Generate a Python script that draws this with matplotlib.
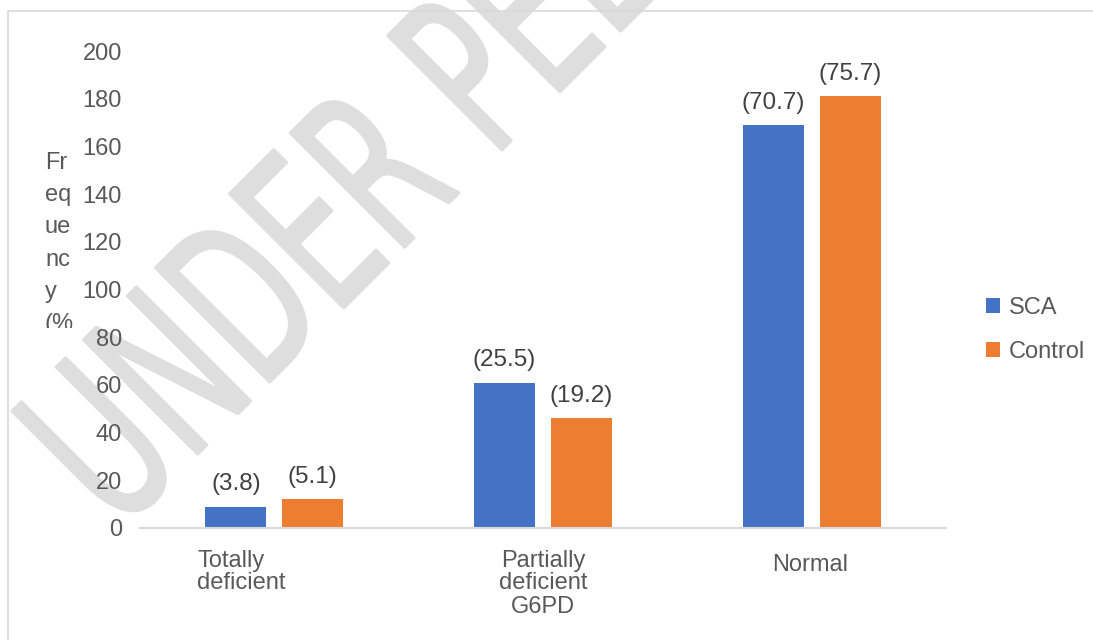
import matplotlib
matplotlib.use("Agg")
import matplotlib.pyplot as plt
import matplotlib.transforms as mtransforms
from matplotlib.patches import Rectangle, PathPatch
from matplotlib.textpath import TextPath
from matplotlib.font_manager import FontProperties
import numpy as np

plt.rcParams['font.family'] = ['Liberation Sans', 'DejaVu Sans']

# G6PD status by group: bar height = count, label = percentage
categories = ['Totally\ndeficient', 'Partially\ndeficient', 'Normal']
sca_counts = [9, 61, 169]
control_counts = [12, 46, 181]
sca_pct = ['(3.8)', '(25.5)', '(70.7)']
control_pct = ['(5.1)', '(19.2)', '(75.7)']
yticks = list(range(0, 201, 20))

BLUE = '#4472C4'
ORANGE = '#ED7D31'
TEXT = '#595959'
GRID = '#D9D9D9'
FS = 17

fig = plt.figure(figsize=(10.93, 6.4), dpi=100)
ax = fig.add_axes([0.128, 0.175, 0.7375, 0.745])
ax.patch.set_visible(False)

# outer chart border
border = Rectangle((8 / 1093, -0.05), 1.1, 1.05 - 11 / 640,
                   transform=fig.transFigure, fill=False,
                   edgecolor=GRID, linewidth=1.2, zorder=-5)
fig.patches.append(border)

# watermark: condensed letters set diagonally behind the chart (pixel coords)
wm_path = TextPath((0, 0), 'UNDER PEER REVIEW', size=1,
                   prop=FontProperties(family='DejaVu Sans'))
wm_tr = mtransforms.Affine2D().scale(136, 222).rotate_deg(45).translate(118, 106)
wm = PathPatch(wm_path, transform=wm_tr, facecolor='#DEDEDE',
               edgecolor='#DEDEDE', linewidth=2, joinstyle='round',
               capstyle='round', zorder=-10)
fig.patches.append(wm)

x = np.arange(len(categories))
w = 0.227
off = 0.143
b1 = ax.bar(x - off, sca_counts, w, color=BLUE, label='SCA', zorder=2)
b2 = ax.bar(x + off, control_counts, w, color=ORANGE, label='Control', zorder=2)

for bars, labels in ((b1, sca_pct), (b2, control_pct)):
    for rect, lab in zip(bars, labels):
        ax.annotate(lab, (rect.get_x() + rect.get_width() / 2, rect.get_height()),
                    xytext=(0, 8), textcoords='offset points', ha='center',
                    va='bottom', fontsize=17.5, color='#404040')

ax.set_xlim(-0.5, 2.5)
ax.set_ylim(0, 200)
ax.set_yticks(yticks)
ax.set_xticks(x)
ax.set_xticklabels(categories, fontsize=FS, color=TEXT, linespacing=1.0)
ax.tick_params(axis='y', length=0, pad=13, labelsize=FS, labelcolor=TEXT)
ax.tick_params(axis='x', length=0, pad=16)

# nudge the wrapped category labels
shifts = [(-0.33, 0.0), (0.0, 0.0), (-0.02, -0.04)]
for lab, (dx, dy) in zip(ax.get_xticklabels(), shifts):
    lab.set_transform(lab.get_transform() +
                      mtransforms.ScaledTranslation(dx, dy, fig.dpi_scale_trans))
ax.get_xticklabels()[0].set_multialignment('left')

for side in ('top', 'right', 'left'):
    ax.spines[side].set_visible(False)
ax.spines['bottom'].set_color(GRID)
ax.spines['bottom'].set_linewidth(1.5)

ax.set_xlabel('G6PD', fontsize=FS, color=TEXT, labelpad=1)

# wrapped y-axis title, cut off at the bottom of its box
ylab = fig.text(45 / 1093, 1 - 152 / 640, 'Fr\neq\nue\nnc\ny\n(%\n)',
                ha='left', va='top', fontsize=FS, color=TEXT,
                linespacing=1.6)
clip_box = mtransforms.TransformedBbox(
    mtransforms.Bbox([[0, 1 - 328 / 640], [0.2, 1]]), fig.transFigure)
ylab.set_clip_box(clip_box)
ylab.set_clip_on(True)

ax.legend(loc='center left', bbox_to_anchor=(986 / 1093, 1 - 330 / 640),
          bbox_transform=fig.transFigure, frameon=False, fontsize=FS,
          handlelength=0.6, handleheight=0.6, handletextpad=0.35,
          labelspacing=0.95, labelcolor=TEXT, borderpad=0, borderaxespad=0)

fig.savefig('out.png', dpi=100)
